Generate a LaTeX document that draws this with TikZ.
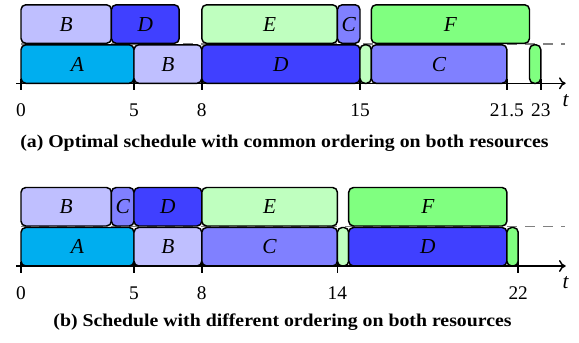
\documentclass[tikz,border=0pt]{standalone}
\usepackage{fontspec}
\setmainfont{Liberation Serif}
\newfontfamily\captfont[FakeStretch=1.1]{Liberation Serif}
\usetikzlibrary{arrows.meta}
\begin{document}
\begin{tikzpicture}[x=0.75pt,y=0.75pt,
  taskbox/.style={draw=black,line width=1.1pt,rounded corners=3.6pt},
  lbl/.style={inner sep=0pt,font=\itshape\fontsize{16}{18}\selectfont},
  tlbl/.style={inner sep=0pt,font=\fontsize{14.5}{16}\selectfont},
  axisline/.style={line width=1.1pt,-{To[length=5pt,width=9pt]}},
  tickmark/.style={line width=1.1pt},
  midline/.style={draw=gray,line width=0.9pt,dash pattern=on 7.5pt off 6pt},
  capt/.style={inner sep=0pt,font=\captfont\bfseries\fontsize{13.5}{15}\selectfont}]
\useasboundingbox (0,0) rectangle (579,343);
\definecolor{cA}{RGB}{0,174,239}
\definecolor{cB}{RGB}{191,191,255}
\definecolor{cC}{RGB}{128,128,255}
\definecolor{cD}{RGB}{64,64,255}
\definecolor{cE}{RGB}{191,255,191}
\definecolor{cF}{RGB}{128,255,128}
\newcommand\taskup[5]{%
  \draw[taskbox,fill=#4] (#2,40) rectangle (#3,78.5);
  \node[lbl] (#1) at ({(#2+#3)/2},59.25) {#5};}
\newcommand\tasklo[5]{%
  \draw[taskbox,fill=#4] (#2,0) rectangle (#3,38.5);
  \node[lbl] (#1) at ({(#2+#3)/2},19.25) {#5};}
\newcommand\tickat[3]{%
  \draw[tickmark] (#2,4) -- (#2,-7);
  \node[tlbl] (#1) at (#2,-27) {#3};}
% ---------- (a) ----------
\begin{scope}[shift={(21,259.7)},x=16.95pt,y=0.75pt]
  \coordinate (am0) at (0,39.25);
  \coordinate (am1) at (24.05,39.25);
  \draw[midline] (am0) -- (am1);
  \coordinate (ax0) at (-0.22,0);
  \coordinate (ax1) at (24.1,0);
  \tasklo{aA}{0}{5}{cA}{A}
  \tasklo{aB2}{5}{8}{cB}{B}
  \tasklo{aD2}{8}{15}{cD}{D}
  \tasklo{aE2}{15}{15.5}{cE}{}
  \tasklo{aC2}{15.5}{21.5}{cC}{C}
  \tasklo{aF2}{22.5}{23}{cF}{}
  \taskup{aB}{0}{4}{cB}{B}
  \taskup{aD}{4}{7}{cD}{D}
  \taskup{aE}{8}{14}{cE}{E}
  \taskup{aC}{14}{15}{cC}{C}
  \taskup{aF}{15.5}{22.5}{cF}{F}
  \draw[axisline] (ax0) -- (ax1);
  \tickat{at0}{0}{0}
  \tickat{at5}{5}{5}
  \tickat{at8}{8}{8}
  \tickat{at15}{15}{15}
  \tickat{at215}{21.5}{21.5}
  \tickat{at23}{23}{23}
  \node[lbl] (at) at (24.1,-17) {t};
\end{scope}
\node[capt] (capa) at (284.5,200) {(a) Optimal schedule with common ordering on both resources};
% ---------- (b) ----------
\begin{scope}[shift={(21,77)},x=16.95pt,y=0.75pt]
  \coordinate (bm0) at (0,39.25);
  \coordinate (bm1) at (24.05,39.25);
  \draw[midline] (bm0) -- (bm1);
  \coordinate (bx0) at (-0.22,0);
  \coordinate (bx1) at (24.1,0);
  \tasklo{bA}{0}{5}{cA}{A}
  \tasklo{bB2}{5}{8}{cB}{B}
  \tasklo{bC2}{8}{14}{cC}{C}
  \tasklo{bE2}{14}{14.5}{cE}{}
  \tasklo{bD2}{14.5}{21.5}{cD}{D}
  \tasklo{bF2}{21.5}{22}{cF}{}
  \taskup{bB}{0}{4}{cB}{B}
  \taskup{bC}{4}{5}{cC}{C}
  \taskup{bD}{5}{8}{cD}{D}
  \taskup{bE}{8}{14}{cE}{E}
  \taskup{bF}{14.5}{21.5}{cF}{F}
  \draw[axisline] (bx0) -- (bx1);
  \tickat{bt0}{0}{0}
  \tickat{bt5}{5}{5}
  \tickat{bt8}{8}{8}
  \tickat{bt14}{14}{14}
  \tickat{bt22}{22}{22}
  \node[lbl] (bt) at (24.1,-17) {t};
\end{scope}
\node[capt] (capb) at (282.5,21) {(b) Schedule with different ordering on both resources};
\end{tikzpicture}
\end{document}
